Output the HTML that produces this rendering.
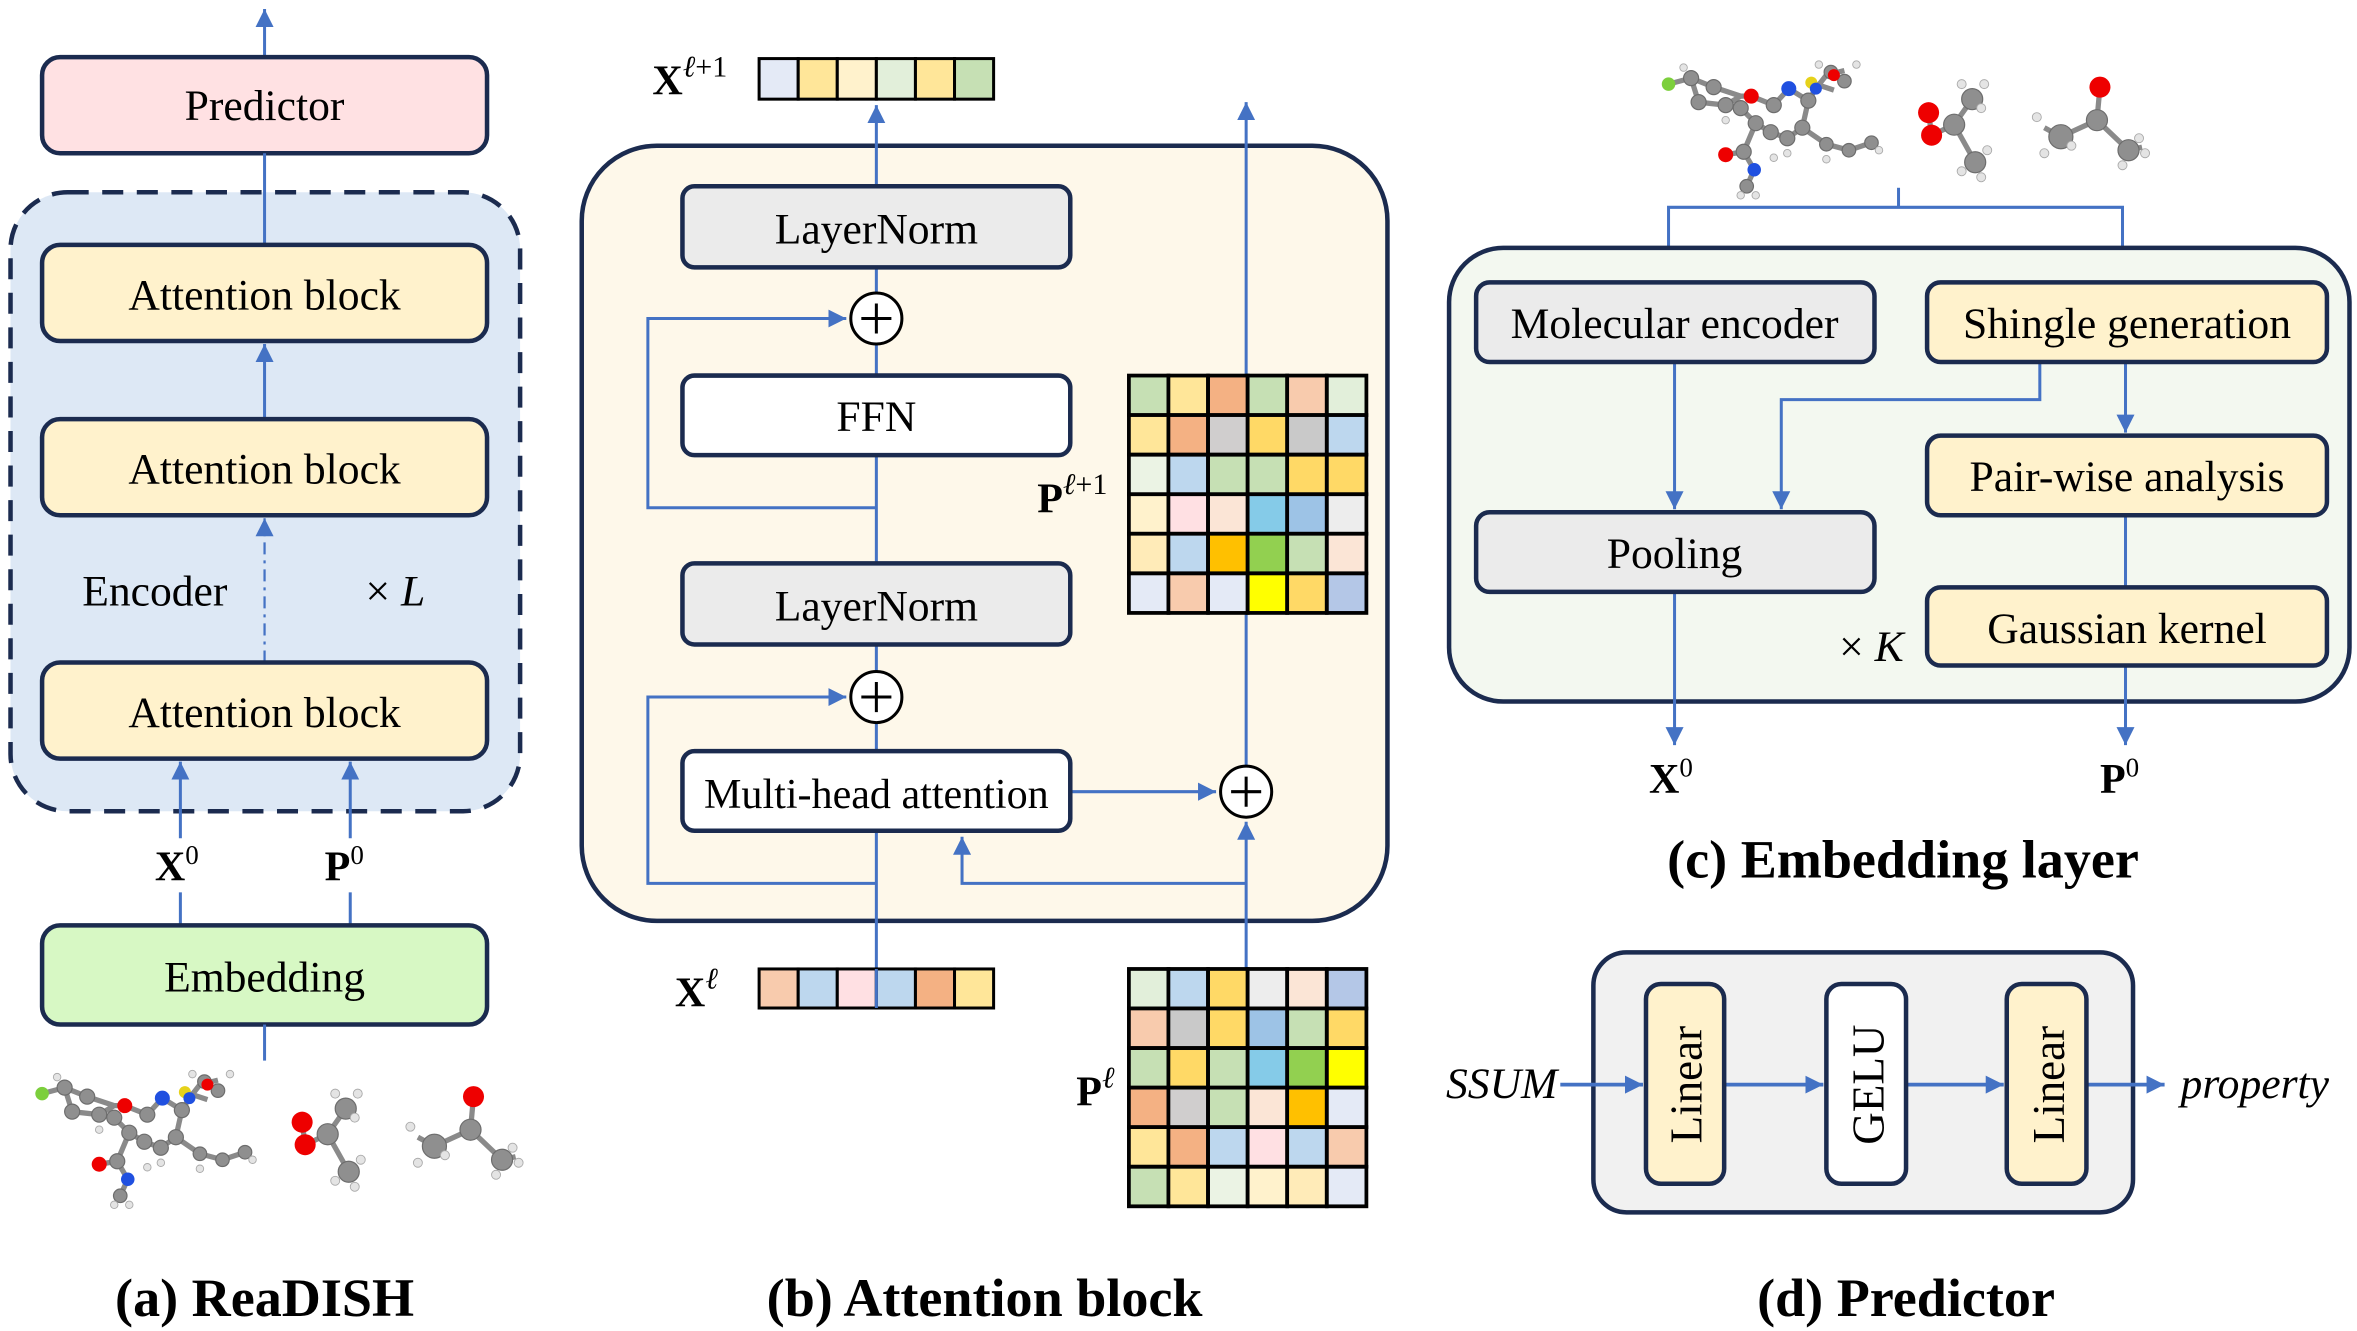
<!DOCTYPE html>
<html><head><meta charset="utf-8"><style>
html,body{margin:0;padding:0;background:#fff;}
svg{display:block;}
svg, svg text{font-family:"Liberation Serif","DejaVu Serif",serif !important;}
</style></head><body>
<svg width="2357" height="1331" viewBox="0 0 1568 886" preserveAspectRatio="none" xmlns="http://www.w3.org/2000/svg" font-family="Liberation Serif, DejaVu Serif, serif">
<defs>
<marker id="ar" markerUnits="userSpaceOnUse" markerWidth="14" markerHeight="14" refX="12" refY="6" orient="auto">
<path d="M0,0 L12,6 L0,12 Z" fill="#4472C4"/>
</marker>
<g id="mol">
<g stroke="#8a8a8a" stroke-width="3.5" fill="none">
<path d="M10,16 L25,12 L40,18 L58,24 L65,24 L80,30 L90,19 L103,27 L99,45 L89,52 L78,48 L68,42 L58,32 M25,12 L30,28 L48,30 L58,24 M68,42 L60,61 L48,63 M60,61 L67,73 L62,84 M103,27 L108,19 L115,10 L127,7 M105,15 L120,20 M99,45 L115,56 L130,60 L145,55"/>
<path d="M183,35 L185,50 L200,43 L212,26 M200,43 L214,68 M297,18 L295,40 L271,51 L260,45 M295,40 L316,60 L325,58"/>
</g>
<g fill="#8f8f8f" stroke="#6d6d6d" stroke-width="0.8">
<circle cx="25" cy="12" r="5"/><circle cx="40" cy="18" r="5"/><circle cx="30" cy="28" r="5"/><circle cx="48" cy="30" r="5"/><circle cx="58" cy="32" r="5"/><circle cx="80" cy="30" r="5"/><circle cx="103" cy="27" r="5"/><circle cx="99" cy="45" r="5"/><circle cx="89" cy="52" r="5"/><circle cx="78" cy="48" r="5"/><circle cx="68" cy="42" r="5"/><circle cx="60" cy="61" r="5"/><circle cx="62" cy="84" r="4.5"/><circle cx="115" cy="56" r="4.5"/><circle cx="130" cy="60" r="4.5"/><circle cx="145" cy="55" r="4.5"/><circle cx="118" cy="8" r="4.5"/><circle cx="127" cy="14" r="4.5"/>
<circle cx="200" cy="43" r="7"/><circle cx="212" cy="26" r="7"/><circle cx="214" cy="68" r="7"/>
<circle cx="295" cy="40" r="7"/><circle cx="271" cy="51" r="8"/><circle cx="316" cy="60" r="7"/>
</g>
<g fill="#e4e4e4" stroke="#aaa" stroke-width="0.6">
<circle cx="20" cy="5" r="2.5"/><circle cx="48" cy="40" r="2.5"/><circle cx="80" cy="65" r="2.5"/><circle cx="58" cy="90" r="2.5"/><circle cx="68" cy="90" r="2.5"/><circle cx="89" cy="62" r="2.5"/><circle cx="115" cy="66" r="2.5"/><circle cx="150" cy="60" r="2.5"/><circle cx="110" cy="3" r="2.5"/><circle cx="135" cy="3" r="2.5"/>
<circle cx="205" cy="16" r="3"/><circle cx="220" cy="16" r="3"/><circle cx="218" cy="32" r="3"/><circle cx="205" cy="74" r="3"/><circle cx="222" cy="60" r="3"/><circle cx="218" cy="78" r="3"/>
<circle cx="255" cy="38" r="3"/><circle cx="260" cy="62" r="3"/><circle cx="278" cy="57" r="3"/><circle cx="312" cy="70" r="3"/><circle cx="327" cy="62" r="3"/><circle cx="323" cy="52" r="3"/>
</g>
<circle cx="10" cy="16" r="4.5" fill="#7ccf3c"/>
<circle cx="65" cy="24" r="5" fill="#e00"/>
<circle cx="90" cy="19" r="5" fill="#2050e0"/>
<circle cx="48" cy="63" r="5" fill="#e00"/>
<circle cx="67" cy="73" r="4.5" fill="#2050e0"/>
<circle cx="105" cy="15" r="4" fill="#e6d21a"/>
<circle cx="108" cy="19" r="4" fill="#2050e0"/>
<circle cx="120" cy="10" r="4" fill="#e00"/>
<circle cx="183" cy="35" r="7" fill="#e00"/>
<circle cx="185" cy="50" r="7" fill="#e00"/>
<circle cx="297" cy="18" r="7" fill="#e00"/>
</g>
</defs>

<!-- ===== (a) ===== -->
<line x1="176" y1="38" x2="176" y2="6" stroke="#4472C4" stroke-width="2" marker-end="url(#ar)"/>
<rect x="28" y="38" width="296" height="64" rx="12" fill="#FFE1E3" stroke="#1B2B4F" stroke-width="3"/>
<text x="176" y="80" font-size="29" text-anchor="middle">Predictor</text>
<rect x="7" y="128" width="339" height="412" rx="38" fill="#DDE8F5" stroke="#1B2B4F" stroke-width="3" stroke-dasharray="14,9"/>
<line x1="176" y1="102" x2="176" y2="163" stroke="#4472C4" stroke-width="2"/>
<rect x="28" y="163" width="296" height="64" rx="12" fill="#FFF2CC" stroke="#1B2B4F" stroke-width="3"/>
<text x="176" y="206" font-size="29" text-anchor="middle">Attention block</text>
<line x1="176" y1="279" x2="176" y2="229" stroke="#4472C4" stroke-width="2" marker-end="url(#ar)"/>
<rect x="28" y="279" width="296" height="64" rx="12" fill="#FFF2CC" stroke="#1B2B4F" stroke-width="3"/>
<text x="176" y="322" font-size="29" text-anchor="middle">Attention block</text>
<line x1="176" y1="441" x2="176" y2="345" stroke="#4472C4" stroke-width="1.5" stroke-dasharray="8,4,2,4" marker-end="url(#ar)"/>
<text x="103" y="403" font-size="29" text-anchor="middle">Encoder</text>
<text x="263" y="403" font-size="29" text-anchor="middle">× <tspan font-style="italic">L</tspan></text>
<rect x="28" y="441" width="296" height="64" rx="12" fill="#FFF2CC" stroke="#1B2B4F" stroke-width="3"/>
<text x="176" y="484" font-size="29" text-anchor="middle">Attention block</text>
<line x1="120" y1="558" x2="120" y2="507" stroke="#4472C4" stroke-width="2" marker-end="url(#ar)"/>
<line x1="233" y1="558" x2="233" y2="507" stroke="#4472C4" stroke-width="2" marker-end="url(#ar)"/>
<line x1="120" y1="594" x2="120" y2="616" stroke="#4472C4" stroke-width="2"/>
<line x1="233" y1="594" x2="233" y2="616" stroke="#4472C4" stroke-width="2"/>
<text x="103" y="586" font-size="28" font-weight="bold">X<tspan font-size="18" font-weight="normal" dy="-11">0</tspan></text>
<text x="216" y="586" font-size="28" font-weight="bold">P<tspan font-size="18" font-weight="normal" dy="-11">0</tspan></text>
<rect x="28" y="616" width="296" height="66" rx="12" fill="#D7F8C4" stroke="#1B2B4F" stroke-width="3"/>
<text x="176" y="660" font-size="29" text-anchor="middle">Embedding</text>
<line x1="176" y1="706" x2="176" y2="682" stroke="#4472C4" stroke-width="2"/>
<use href="#mol" transform="translate(18,712)"/>
<text x="176" y="876" font-size="36" font-weight="bold" text-anchor="middle">(a) ReaDISH</text>

<!-- ===== (b) ===== -->
<rect x="387" y="97" width="536" height="516" rx="50" fill="#FEF8EA" stroke="#1B2B4F" stroke-width="3"/>
<g stroke="#4472C4" stroke-width="2" fill="none">
<line x1="583" y1="124" x2="583" y2="70" marker-end="url(#ar)"/>
<line x1="583" y1="178" x2="583" y2="195"/>
<line x1="583" y1="229" x2="583" y2="250"/>
<line x1="583" y1="303" x2="583" y2="375"/>
<polyline points="583,338 431,338 431,212 563,212" marker-end="url(#ar)"/>
<line x1="583" y1="429" x2="583" y2="447"/>
<line x1="583" y1="481" x2="583" y2="500"/>
<line x1="583" y1="645" x2="583" y2="553"/>
<polyline points="583,588 431,588 431,464 563,464" marker-end="url(#ar)"/>
<polyline points="829,588 640,588 640,557" marker-end="url(#ar)"/>
<line x1="829" y1="645" x2="829" y2="547" marker-end="url(#ar)"/>
<line x1="712" y1="527" x2="809" y2="527" marker-end="url(#ar)"/>
<line x1="829" y1="510" x2="829" y2="408"/>
<line x1="829" y1="250" x2="829" y2="68" marker-end="url(#ar)"/>
</g>
<rect x="454" y="124" width="258" height="54" rx="8" fill="#EBEBEB" stroke="#1B2B4F" stroke-width="3"/>
<text x="583" y="162" font-size="29" text-anchor="middle">LayerNorm</text>
<rect x="454" y="250" width="258" height="53" rx="8" fill="#fff" stroke="#1B2B4F" stroke-width="3"/>
<text x="583" y="287" font-size="29" text-anchor="middle">FFN</text>
<rect x="454" y="375" width="258" height="54" rx="8" fill="#EBEBEB" stroke="#1B2B4F" stroke-width="3"/>
<text x="583" y="413" font-size="29" text-anchor="middle">LayerNorm</text>
<rect x="454" y="500" width="258" height="53" rx="8" fill="#fff" stroke="#1B2B4F" stroke-width="3"/>
<text x="583" y="538" font-size="28" text-anchor="middle">Multi-head attention</text>
<g fill="#fff" stroke="#000" stroke-width="2">
<circle cx="583" cy="212" r="17"/><circle cx="583" cy="464" r="17"/><circle cx="829" cy="527" r="17"/>
</g>
<g stroke="#000" stroke-width="2">
<path d="M573,212 H593 M583,202 V222"/><path d="M573,464 H593 M583,454 V474"/><path d="M819,527 H839 M829,517 V537"/>
</g>
<g stroke="#000" stroke-width="2">
<rect x="505" y="39" width="26" height="27" fill="#E4EAF6"/><rect x="531" y="39" width="26" height="27" fill="#FFE699"/><rect x="557" y="39" width="26" height="27" fill="#FFF2CC"/><rect x="583" y="39" width="26" height="27" fill="#E2EFDA"/><rect x="609" y="39" width="26" height="27" fill="#FFE699"/><rect x="635" y="39" width="26" height="27" fill="#C6E0B4"/>
<rect x="505" y="645" width="26" height="26" fill="#F8CBAD"/><rect x="531" y="645" width="26" height="26" fill="#BDD7EE"/><rect x="557" y="645" width="26" height="26" fill="#FFE0E3"/><rect x="583" y="645" width="26" height="26" fill="#BDD7EE"/><rect x="609" y="645" width="26" height="26" fill="#F4B183"/><rect x="635" y="645" width="26" height="26" fill="#FFE699"/>
</g>
<line x1="583" y1="645" x2="583" y2="671" stroke="#4472C4" stroke-width="2"/>
<g stroke="#000" stroke-width="2.5">
<rect x="751" y="250" width="26.3" height="26.3" fill="#C6E0B4"/><rect x="777.3" y="250" width="26.3" height="26.3" fill="#FFE699"/><rect x="803.7" y="250" width="26.3" height="26.3" fill="#F4B183"/><rect x="830" y="250" width="26.3" height="26.3" fill="#C6E0B4"/><rect x="856.3" y="250" width="26.3" height="26.3" fill="#F8CBAD"/><rect x="882.7" y="250" width="26.3" height="26.3" fill="#E2EFDA"/>
<rect x="751" y="276.3" width="26.3" height="26.3" fill="#FFE699"/><rect x="777.3" y="276.3" width="26.3" height="26.3" fill="#F4B183"/><rect x="803.7" y="276.3" width="26.3" height="26.3" fill="#D0CECE"/><rect x="830" y="276.3" width="26.3" height="26.3" fill="#FFD966"/><rect x="856.3" y="276.3" width="26.3" height="26.3" fill="#C9C9C9"/><rect x="882.7" y="276.3" width="26.3" height="26.3" fill="#BDD7EE"/>
<rect x="751" y="302.7" width="26.3" height="26.3" fill="#EBF3E4"/><rect x="777.3" y="302.7" width="26.3" height="26.3" fill="#BDD7EE"/><rect x="803.7" y="302.7" width="26.3" height="26.3" fill="#C6E0B4"/><rect x="830" y="302.7" width="26.3" height="26.3" fill="#C6E0B4"/><rect x="856.3" y="302.7" width="26.3" height="26.3" fill="#FFD966"/><rect x="882.7" y="302.7" width="26.3" height="26.3" fill="#FFD966"/>
<rect x="751" y="329" width="26.3" height="26.3" fill="#FFF2CC"/><rect x="777.3" y="329" width="26.3" height="26.3" fill="#FFE0E3"/><rect x="803.7" y="329" width="26.3" height="26.3" fill="#FBE5D6"/><rect x="830" y="329" width="26.3" height="26.3" fill="#85CBE8"/><rect x="856.3" y="329" width="26.3" height="26.3" fill="#9DC3E6"/><rect x="882.7" y="329" width="26.3" height="26.3" fill="#EDEDED"/>
<rect x="751" y="355.3" width="26.3" height="26.3" fill="#FFEBB8"/><rect x="777.3" y="355.3" width="26.3" height="26.3" fill="#BDD7EE"/><rect x="803.7" y="355.3" width="26.3" height="26.3" fill="#FFC000"/><rect x="830" y="355.3" width="26.3" height="26.3" fill="#92D050"/><rect x="856.3" y="355.3" width="26.3" height="26.3" fill="#C6E0B4"/><rect x="882.7" y="355.3" width="26.3" height="26.3" fill="#FBE5D6"/>
<rect x="751" y="381.7" width="26.3" height="26.3" fill="#E4EAF6"/><rect x="777.3" y="381.7" width="26.3" height="26.3" fill="#F8CBAD"/><rect x="803.7" y="381.7" width="26.3" height="26.3" fill="#E4EAF6"/><rect x="830" y="381.7" width="26.3" height="26.3" fill="#FFFF00"/><rect x="856.3" y="381.7" width="26.3" height="26.3" fill="#FFD966"/><rect x="882.7" y="381.7" width="26.3" height="26.3" fill="#B4C7E7"/>
</g>
<g stroke="#000" stroke-width="2.5">
<rect x="751" y="645" width="26.3" height="26.3" fill="#E2EFDA"/><rect x="777.3" y="645" width="26.3" height="26.3" fill="#BDD7EE"/><rect x="803.7" y="645" width="26.3" height="26.3" fill="#FFD966"/><rect x="830" y="645" width="26.3" height="26.3" fill="#EDEDED"/><rect x="856.3" y="645" width="26.3" height="26.3" fill="#FBE5D6"/><rect x="882.7" y="645" width="26.3" height="26.3" fill="#B4C7E7"/>
<rect x="751" y="671.3" width="26.3" height="26.3" fill="#F8CBAD"/><rect x="777.3" y="671.3" width="26.3" height="26.3" fill="#C9C9C9"/><rect x="803.7" y="671.3" width="26.3" height="26.3" fill="#FFD966"/><rect x="830" y="671.3" width="26.3" height="26.3" fill="#9DC3E6"/><rect x="856.3" y="671.3" width="26.3" height="26.3" fill="#C6E0B4"/><rect x="882.7" y="671.3" width="26.3" height="26.3" fill="#FFD966"/>
<rect x="751" y="697.7" width="26.3" height="26.3" fill="#C6E0B4"/><rect x="777.3" y="697.7" width="26.3" height="26.3" fill="#FFD966"/><rect x="803.7" y="697.7" width="26.3" height="26.3" fill="#C6E0B4"/><rect x="830" y="697.7" width="26.3" height="26.3" fill="#85CBE8"/><rect x="856.3" y="697.7" width="26.3" height="26.3" fill="#92D050"/><rect x="882.7" y="697.7" width="26.3" height="26.3" fill="#FFFF00"/>
<rect x="751" y="724" width="26.3" height="26.3" fill="#F4B183"/><rect x="777.3" y="724" width="26.3" height="26.3" fill="#D0CECE"/><rect x="803.7" y="724" width="26.3" height="26.3" fill="#C6E0B4"/><rect x="830" y="724" width="26.3" height="26.3" fill="#FBE5D6"/><rect x="856.3" y="724" width="26.3" height="26.3" fill="#FFC000"/><rect x="882.7" y="724" width="26.3" height="26.3" fill="#E4EAF6"/>
<rect x="751" y="750.3" width="26.3" height="26.3" fill="#FFE699"/><rect x="777.3" y="750.3" width="26.3" height="26.3" fill="#F4B183"/><rect x="803.7" y="750.3" width="26.3" height="26.3" fill="#BDD7EE"/><rect x="830" y="750.3" width="26.3" height="26.3" fill="#FFE0E3"/><rect x="856.3" y="750.3" width="26.3" height="26.3" fill="#BDD7EE"/><rect x="882.7" y="750.3" width="26.3" height="26.3" fill="#F8CBAD"/>
<rect x="751" y="776.7" width="26.3" height="26.3" fill="#C6E0B4"/><rect x="777.3" y="776.7" width="26.3" height="26.3" fill="#FFE699"/><rect x="803.7" y="776.7" width="26.3" height="26.3" fill="#EBF3E4"/><rect x="830" y="776.7" width="26.3" height="26.3" fill="#FFF2CC"/><rect x="856.3" y="776.7" width="26.3" height="26.3" fill="#FFEBB8"/><rect x="882.7" y="776.7" width="26.3" height="26.3" fill="#E4EAF6"/>
</g>
<text x="434" y="63" font-size="28" font-weight="bold">X<tspan font-size="20" font-weight="normal" font-style="italic" dy="-12">ℓ</tspan><tspan font-size="20" font-weight="normal">+1</tspan></text>
<text x="690" y="341" font-size="28" font-weight="bold">P<tspan font-size="20" font-weight="normal" font-style="italic" dy="-12">ℓ</tspan><tspan font-size="20" font-weight="normal">+1</tspan></text>
<text x="449" y="670" font-size="28" font-weight="bold">X<tspan font-size="20" font-weight="normal" font-style="italic" dy="-12">ℓ</tspan></text>
<text x="716" y="736" font-size="28" font-weight="bold">P<tspan font-size="20" font-weight="normal" font-style="italic" dy="-12">ℓ</tspan></text>
<text x="655" y="876" font-size="36" font-weight="bold" text-anchor="middle">(b) Attention block</text>

<!-- ===== (c) ===== -->
<use href="#mol" transform="translate(1100,40)"/>
<g stroke="#4472C4" stroke-width="2" fill="none">
<polyline points="1263,125 1263,138"/>
<polyline points="1110,165 1110,138 1412,138 1412,165"/>
</g>
<rect x="964" y="165" width="599" height="302" rx="36" fill="#F3F8F0" stroke="#1B2B4F" stroke-width="3"/>
<g stroke="#4472C4" stroke-width="2" fill="none">
<line x1="1114" y1="241" x2="1114" y2="339" marker-end="url(#ar)"/>
<polyline points="1357,241 1357,266 1185,266 1185,339" marker-end="url(#ar)"/>
<line x1="1414" y1="241" x2="1414" y2="288" marker-end="url(#ar)"/>
<line x1="1414" y1="343" x2="1414" y2="391"/>
<line x1="1114" y1="394" x2="1114" y2="496" marker-end="url(#ar)"/>
<line x1="1414" y1="443" x2="1414" y2="496" marker-end="url(#ar)"/>
</g>
<rect x="982" y="188" width="265" height="53" rx="9" fill="#EBEBEB" stroke="#1B2B4F" stroke-width="3"/>
<text x="1114" y="225" font-size="29" text-anchor="middle">Molecular encoder</text>
<rect x="1282" y="188" width="266" height="53" rx="9" fill="#FFF2CC" stroke="#1B2B4F" stroke-width="3"/>
<text x="1415" y="225" font-size="29" text-anchor="middle">Shingle generation</text>
<rect x="1282" y="290" width="266" height="53" rx="9" fill="#FFF2CC" stroke="#1B2B4F" stroke-width="3"/>
<text x="1415" y="327" font-size="29" text-anchor="middle">Pair-wise analysis</text>
<rect x="982" y="341" width="265" height="53" rx="9" fill="#EBEBEB" stroke="#1B2B4F" stroke-width="3"/>
<text x="1114" y="378" font-size="29" text-anchor="middle">Pooling</text>
<rect x="1282" y="391" width="266" height="52" rx="9" fill="#FFF2CC" stroke="#1B2B4F" stroke-width="3"/>
<text x="1415" y="428" font-size="29" text-anchor="middle">Gaussian kernel</text>
<text x="1245" y="440" font-size="29" text-anchor="middle">× <tspan font-style="italic">K</tspan></text>
<text x="1097" y="528" font-size="28" font-weight="bold">X<tspan font-size="18" font-weight="normal" dy="-11">0</tspan></text>
<text x="1397" y="528" font-size="28" font-weight="bold">P<tspan font-size="18" font-weight="normal" dy="-11">0</tspan></text>
<text x="1266" y="584" font-size="36" font-weight="bold" text-anchor="middle">(c) Embedding layer</text>

<!-- ===== (d) ===== -->
<rect x="1060" y="634" width="359" height="173" rx="22" fill="#F1F1F1" stroke="#1B2B4F" stroke-width="3"/>
<g stroke="#4472C4" stroke-width="2.5" fill="none">
<line x1="1038" y1="722" x2="1093" y2="722" marker-end="url(#ar)"/>
<line x1="1147" y1="722" x2="1213" y2="722" marker-end="url(#ar)"/>
<line x1="1268" y1="722" x2="1333" y2="722" marker-end="url(#ar)"/>
<line x1="1388" y1="722" x2="1440" y2="722" marker-end="url(#ar)"/>
</g>
<rect x="1095" y="655" width="52" height="133" rx="10" fill="#FFF2CC" stroke="#1B2B4F" stroke-width="3"/>
<rect x="1215" y="655" width="53" height="133" rx="10" fill="#fff" stroke="#1B2B4F" stroke-width="3"/>
<rect x="1335" y="655" width="53" height="133" rx="10" fill="#FFF2CC" stroke="#1B2B4F" stroke-width="3"/>
<text transform="translate(1132,722) rotate(-90)" font-size="30" text-anchor="middle">Linear</text>
<text transform="translate(1253,722) rotate(-90)" font-size="30" text-anchor="middle">GELU</text>
<text transform="translate(1373,722) rotate(-90)" font-size="30" text-anchor="middle">Linear</text>
<text x="999" y="731" font-size="29" font-style="italic" text-anchor="middle">SSUM</text>
<text x="1500" y="731" font-size="29" font-style="italic" text-anchor="middle">property</text>
<text x="1268" y="876" font-size="36" font-weight="bold" text-anchor="middle">(d) Predictor</text>
</svg>
</body></html>
